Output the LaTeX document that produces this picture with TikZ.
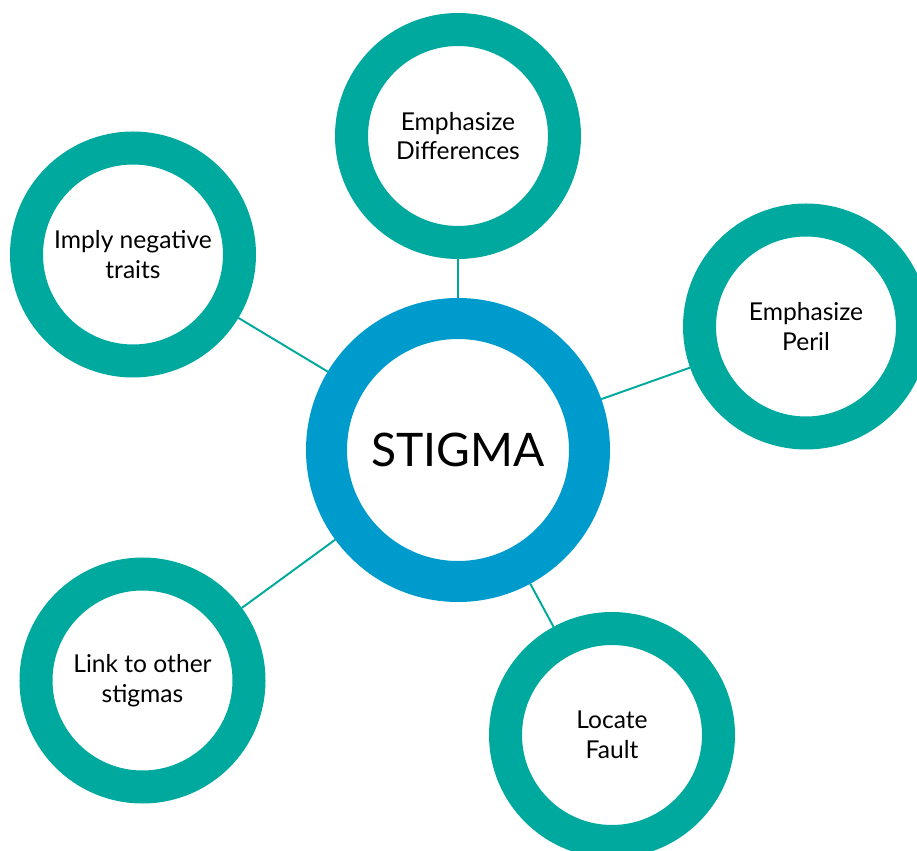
\documentclass[tikz,border=0pt]{standalone}
\usepackage{fontspec}
\setmainfont{Lato}
\definecolor{ringteal}{HTML}{00A99D}
\definecolor{ringblue}{HTML}{009BCD}

\begin{document}
\begin{tikzpicture}[
    hub/.style={circle, draw=ringblue, line width=0.82cm, fill=white,
      minimum size=5.26cm, inner sep=0pt, font=\fontsize{26.3}{30}\selectfont},
    spoke/.style={circle, draw=ringteal, line width=0.66cm, fill=white,
      minimum size=4.26cm, inner sep=0pt, align=center,
      font=\fontsize{14}{17}\selectfont},
    link/.style={ringteal, line width=1.1pt}]
  \useasboundingbox (0,0) rectangle (18.34,17);
  \node[hub] (stigma) at (9.16,8) {STIGMA};
  \node[spoke] (diff) at (9.16,14.28) {Emphasize\\Differences};
  \node[spoke] (traits) at (2.66,11.91) {Imply negative\\traits};
  \node[spoke] (peril) at (16.12,10.47) {Emphasize\\Peril};
  \node[spoke] (fault) at (12.24,2.3) {Locate\\Fault};
  \node[spoke] (other) at (2.85,3.39) {Link to other\\stigmas};
  \foreach \n in {diff,traits,peril,fault,other}
    \draw[link] (stigma) -- (\n);
\end{tikzpicture}
\end{document}
